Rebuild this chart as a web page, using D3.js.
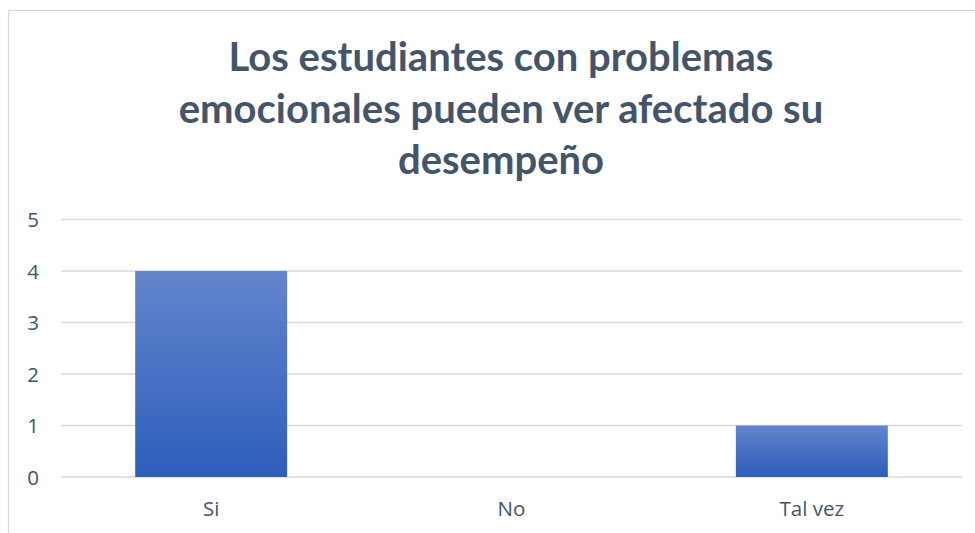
<!DOCTYPE html>
<html>
<head>
<meta charset="utf-8">
<script src="https://cdn.jsdelivr.net/npm/d3@7"></script>
<style>
  html, body { margin: 0; padding: 0; background: #fff; }
  svg { display: block; }
</style>
</head>
<body>
<svg id="chart" width="975" height="533"></svg>
<script>
const categories = ["Si", "No", "Tal vez"];
const values = [4, 0, 1];
const yTicks = [0, 1, 2, 3, 4, 5];
const titleLines = ["Los estudiantes con problemas", "emocionales pueden ver afectado su", "desempeño"];

const svg = d3.select("#chart");
const plot = { left: 61, right: 962, top: 219.5, bottom: 477 };
const labelFont = "'Open Sans', 'Noto Sans', sans-serif";

// chart frame (only top and left edges fall inside the canvas)
svg.append("rect")
  .attr("x", 8.5).attr("y", 10.5)
  .attr("width", 1000).attr("height", 600)
  .attr("fill", "#fff")
  .attr("stroke", "#D9D9D9").attr("stroke-width", 1.2);

const defs = svg.append("defs");
const grad = defs.append("linearGradient")
  .attr("id", "barGrad").attr("x1", 0).attr("y1", 0).attr("x2", 0).attr("y2", 1);
grad.append("stop").attr("offset", "0%").attr("stop-color", "#6385CC");
grad.append("stop").attr("offset", "100%").attr("stop-color", "#2D5EBB");

const x = d3.scaleBand().domain(categories).range([plot.left, plot.right]).padding(0);
const y = d3.scaleLinear().domain([0, 5]).range([plot.bottom, plot.top]);
const barW = x.bandwidth() * 0.506;

// gridlines
svg.append("g").selectAll("line").data(yTicks).join("line")
  .attr("x1", plot.left).attr("x2", plot.right)
  .attr("y1", d => y(d)).attr("y2", d => y(d))
  .attr("stroke", "#D9D9D9").attr("stroke-width", 1.3);

// bars
svg.append("g").selectAll("rect").data(values).join("rect")
  .attr("x", (d, i) => x(categories[i]) + (x.bandwidth() - barW) / 2)
  .attr("y", d => y(d))
  .attr("width", barW)
  .attr("height", d => y(0) - y(d))
  .attr("fill", "url(#barGrad)");

// axes
const yAxis = d3.axisLeft(y).tickValues(yTicks).tickFormat(d3.format("d")).tickSize(0).tickPadding(0);
svg.append("g").attr("transform", `translate(${plot.left - 22},0)`).call(yAxis)
  .call(g => g.select(".domain").remove())
  .selectAll("text")
  .attr("font-family", labelFont)
  .attr("font-size", 20.5).attr("fill", "#44546A").attr("dy", "0.36em");

const xAxis = d3.axisBottom(x).tickSize(0).tickPadding(0);
svg.append("g").attr("transform", `translate(0,${plot.bottom})`).call(xAxis)
  .call(g => g.select(".domain").remove())
  .selectAll("text")
  .attr("font-family", labelFont)
  .attr("font-size", 20.5).attr("fill", "#44546A")
  .attr("y", 39).attr("dy", 0);

// title
svg.append("text")
  .attr("text-anchor", "middle")
  .attr("font-family", "Lato, 'Open Sans', sans-serif")
  .attr("font-weight", "bold")
  .attr("font-size", 40)
  .attr("fill", "#44546A")
  .selectAll("tspan").data(titleLines).join("tspan")
  .attr("x", 501)
  .attr("y", (d, i) => 71 + i * 51.5)
  .text(d => d);
</script>
</body>
</html>
